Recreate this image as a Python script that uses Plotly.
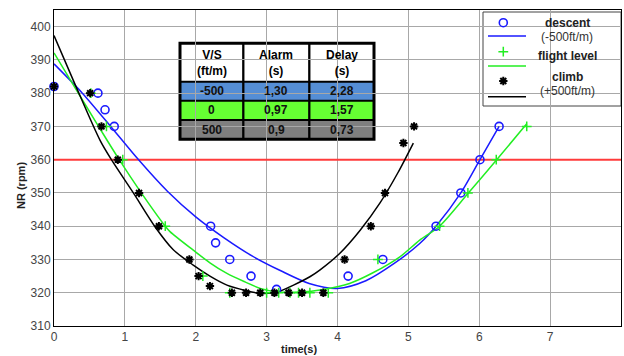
import plotly.graph_objects as go

# ---- measured rotor speed during the manoeuvre (time in s, NR in rpm) ----
descent_t = [0.0, 0.62, 0.72, 0.85, 2.21, 2.28, 2.48, 2.78, 3.14, 4.15, 4.64, 5.39, 5.74, 6.01, 6.28]
descent_nr = [382, 380, 375, 370, 340, 335, 330, 325, 321, 325, 330, 340, 350, 360, 370]

flight_t = [0.52, 0.74, 0.97, 1.57, 2.10, 2.48, 3.00, 3.17, 3.33, 3.45, 3.61, 3.87, 4.57, 5.44, 5.84, 6.24, 6.67]
flight_nr = [380, 370, 360, 340, 325, 320, 320, 320, 320, 320, 320, 320, 330, 340, 350, 360, 370]

climb_t = [0.0, 0.51, 0.67, 0.90, 1.20, 1.48, 1.91, 2.04, 2.20, 2.51, 2.71, 2.91, 3.11, 3.31, 3.50, 3.80, 4.10, 4.47, 4.67, 4.93, 5.08]
climb_nr = [382, 380, 370, 360, 350, 340, 330, 325, 322, 320, 320, 320, 320, 320, 320, 320, 330, 340, 350, 365, 370]

# ---- fitted trend curves ----
descent_fit_t = [0.0, 0.4, 0.8, 1.2, 1.6, 2.0, 2.4, 2.8, 3.2, 3.6, 4.0, 4.4, 4.8, 5.16, 5.39, 5.74, 6.01, 6.28]
descent_fit_nr = [388.8, 380.0, 370.0, 359.8, 350.5, 342.8, 336.5, 331.0, 326.6, 322.8, 321.3, 323.6, 328.8, 334.8, 340.0, 350.0, 360.0, 370.0]

flight_fit_t = [0.0, 0.3, 0.6, 0.92, 1.2, 1.57, 1.64, 1.965, 2.2, 2.44, 2.7, 2.91, 3.14, 3.47, 3.8, 4.17, 4.5, 4.88, 5.16, 5.44, 5.84, 6.24, 6.67]
flight_fit_nr = [392.1, 381.5, 371.0, 360.0, 351.0, 340.0, 338.3, 332.8, 329.0, 325.8, 323.2, 321.3, 320.3, 320.2, 321.0, 322.8, 326.0, 330.8, 335.8, 340.0, 349.8, 359.8, 370.8]

climb_fit_t = [0.0, 0.3, 0.65, 0.81, 1.12, 1.42, 1.68, 1.965, 2.2, 2.44, 2.7, 2.91, 3.15, 3.38, 3.61, 3.75, 4.03, 4.32, 4.6, 4.85, 5.07]
climb_fit_nr = [397.3, 382.5, 365.8, 360.0, 350.0, 340.0, 333.0, 328.3, 325.0, 322.3, 320.7, 319.8, 320.2, 322.3, 324.8, 326.8, 331.8, 338.8, 347.0, 356.0, 365.0]

# alarm threshold
limit_t = [0, 8]
limit_nr = [360, 360]

# ---- summary table ----
table_header = ["V/S<br>(ft/m)", "Alarm<br>(s)", "Delay<br>(s)"]
vs_labels = ["-500", "0", "500"]
alarm_s = ["1,30", "0,97", "0,9"]
delay_s = ["2,28", "1,57", "0,73"]
row_colors = ["#558ed5", "#66ff33", "#7f7f7f"]

# ---- legend ----
legend_names = ["descent", "flight level", "climb"]
legend_subs = ["(-500ft/m)", "", "(+500ft/m)"]

FONT = "Liberation Sans, Arial, sans-serif"
BLUE = "#1a1aff"
GREEN = "#22ee22"
BLACK = "#000000"

# canvas / plot-area geometry (pixels)
FIG_W, FIG_H = 624, 356
L, R, T, B = 54, 621, 10, 326
X_RANGE = [0, 8]
Y_RANGE = [310, 405]


def px(x):
    return (x - L) / (R - L)


def py(y):
    return (B - y) / (B - T)


def data_x(x):
    return X_RANGE[0] + px(x) * (X_RANGE[1] - X_RANGE[0])


def data_y(y):
    return Y_RANGE[0] + py(y) * (Y_RANGE[1] - Y_RANGE[0])


def label(x, y, text, size=12, color="#111", **kw):
    return dict(x=px(x), y=py(y), xref="paper", yref="paper", text=text,
                showarrow=False, xanchor="center", yanchor="middle",
                font=dict(family=FONT, size=size, color=color), **kw)


fig = go.Figure()

fig.add_trace(go.Scatter(x=limit_t, y=limit_nr, mode="lines",
                         line=dict(color="#ff3b3b", width=2), hoverinfo="skip"))

for ft, fnr, color in [(descent_fit_t, descent_fit_nr, BLUE),
                       (flight_fit_t, flight_fit_nr, GREEN),
                       (climb_fit_t, climb_fit_nr, BLACK)]:
    fig.add_trace(go.Scatter(x=ft, y=fnr, mode="lines",
                             line=dict(color=color, width=1.5, shape="spline", smoothing=0.8)))

MK_DESCENT = dict(symbol="circle-open", size=8, color=BLUE, line=dict(width=1.6, color=BLUE))
MK_FLIGHT = dict(symbol="cross-thin-open", size=7, color=GREEN, line=dict(width=1.5, color=GREEN))
MK_CLIMB = dict(symbol="asterisk-open", size=7, color=BLACK, line=dict(width=2, color=BLACK))

fig.add_trace(go.Scatter(x=descent_t, y=descent_nr, mode="markers", cliponaxis=False, marker=MK_DESCENT))
fig.add_trace(go.Scatter(x=flight_t, y=flight_nr, mode="markers", cliponaxis=False, marker=MK_FLIGHT))
fig.add_trace(go.Scatter(x=climb_t, y=climb_nr, mode="markers", cliponaxis=False, marker=MK_CLIMB))

shapes = []
annotations = []

# ---- table ----
col_edges = [180, 243.3, 309.3, 374]
row_edges = [43.3, 81.7, 100.7, 120, 139.3]
for i, color in enumerate(row_colors):
    shapes.append(dict(type="rect", xref="paper", yref="paper", layer="between",
                       x0=px(col_edges[0]), x1=px(col_edges[-1]),
                       y0=py(row_edges[i + 2]), y1=py(row_edges[i + 1]),
                       fillcolor=color, line=dict(width=0)))
shapes.append(dict(type="rect", xref="paper", yref="paper", layer="between",
                   x0=px(col_edges[0]), x1=px(col_edges[-1]),
                   y0=py(row_edges[1]), y1=py(row_edges[0]),
                   fillcolor="white", line=dict(width=0)))
for xe in col_edges[1:-1]:
    shapes.append(dict(type="line", xref="paper", yref="paper", layer="between",
                       x0=px(xe), x1=px(xe), y0=py(row_edges[0]), y1=py(row_edges[-1]),
                       line=dict(color="black", width=2.3)))
for ye in row_edges[1:-1]:
    shapes.append(dict(type="line", xref="paper", yref="paper", layer="between",
                       x0=px(col_edges[0]), x1=px(col_edges[-1]), y0=py(ye), y1=py(ye),
                       line=dict(color="black", width=2)))
shapes.append(dict(type="rect", xref="paper", yref="paper", layer="between",
                   x0=px(col_edges[0]), x1=px(col_edges[-1]),
                   y0=py(row_edges[-1]), y1=py(row_edges[0]),
                   line=dict(color="black", width=3)))

col_centers = [(col_edges[i] + col_edges[i + 1]) / 2 for i in range(3)]
for c, text in enumerate(table_header):
    annotations.append(label(col_centers[c], (row_edges[0] + row_edges[1]) / 2 + 0.5,
                             "<b>" + text + "</b>", color="black", align="center"))
for r, row in enumerate(zip(vs_labels, alarm_s, delay_s)):
    yc = (row_edges[r + 1] + row_edges[r + 2]) / 2
    for c, text in enumerate(row):
        annotations.append(label(col_centers[c], yc, "<b>" + text + "</b>"))

# ---- legend box ----
LG_L, LG_R, LG_T, LG_B = 483, 621, 12, 106
shapes.append(dict(type="rect", xref="paper", yref="paper", layer="between",
                   x0=px(LG_L), x1=px(597), y0=py(LG_B), y1=py(LG_T),
                   fillcolor="white", line=dict(width=0)))
shapes.append(dict(type="rect", xref="paper", yref="paper", layer="between",
                   x0=px(LG_L), x1=px(LG_R), y0=py(LG_B), y1=py(LG_T),
                   line=dict(color="#444", width=1)))

sample_colors = [BLUE, GREEN, BLACK]
marker_y = [22.7, 51.7, 81]
line_y = [36, 66, 96.7]
for color, ly in zip(sample_colors, line_y):
    shapes.append(dict(type="line", xref="paper", yref="paper", layer="between",
                       x0=px(488), x1=px(526), y0=py(ly), y1=py(ly),
                       line=dict(color=color, width=1.5)))

for mk, my in zip([MK_DESCENT, MK_FLIGHT, MK_CLIMB], marker_y):
    fig.add_trace(go.Scatter(x=[data_x(503.3)], y=[data_y(my)], mode="markers",
                             cliponaxis=False, hoverinfo="skip", marker=mk))

name_y = [22.7, 56, 77.3]
sub_y = [37, None, 90.7]
for name, sub, ny, sy in zip(legend_names, legend_subs, name_y, sub_y):
    annotations.append(label(567, ny, "<b>" + name + "</b>", color="#222"))
    if sub:
        annotations.append(label(567, sy, sub, color="#333"))

# ---- axis titles ----
annotations.append(label(21, 186, "<b>NR (rpm)</b>", size=11, color="#222", textangle=-90))
annotations.append(label(299, 349, "<b>time(s)</b>", size=11, color="#222"))

axis_common = dict(showgrid=True, gridcolor="#a8a8a8", gridwidth=1, zeroline=False,
                   showline=True, linecolor="black", linewidth=1, mirror=True, ticks="",
                   tickfont=dict(family=FONT, size=12, color="#444"))

fig.update_layout(
    width=FIG_W, height=FIG_H,
    margin=dict(l=L, r=FIG_W - R, t=T, b=FIG_H - B),
    paper_bgcolor="white", plot_bgcolor="white",
    showlegend=False,
    xaxis=dict(range=X_RANGE, dtick=1, tick0=0, **axis_common),
    yaxis=dict(range=Y_RANGE, tickvals=list(range(310, 401, 10)), **axis_common),
    shapes=shapes, annotations=annotations,
)

fig.write_html("out.html")
